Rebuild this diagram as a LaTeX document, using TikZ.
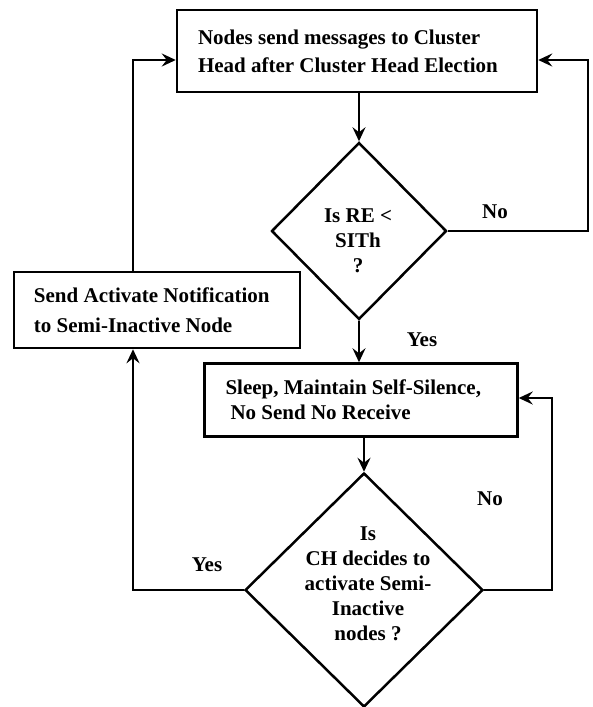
\documentclass[tikz,border=0pt]{standalone}
\usepackage{fontspec}
\setmainfont{Liberation Serif}
\usetikzlibrary{shapes.geometric,arrows.meta}
\begin{document}
\begin{tikzpicture}[x=1pt,y=-1pt,
  line width=2.5pt,
  every node/.style={font=\bfseries\fontsize{21}{25}\selectfont},
  procbox/.style={draw,rectangle,align=flush left,inner ysep=0pt,inner xsep=21pt},
  decision/.style={draw,diamond,inner sep=0pt},
  arr/.style={-{Stealth[length=14pt,width=13pt,inset=5pt]}},
  lbl/.style={inner sep=0pt}]
\useasboundingbox (0,0) rectangle (593,707);

% process boxes
\node[procbox,text width=318pt,minimum height=82pt,
      font=\bfseries\fontsize{21}{28}\selectfont] (top) at (357,51)
  {Nodes send messages to Cluster\\Head after Cluster Head Election};
\node[procbox,inner xsep=20pt,text width=246pt,minimum height=76pt,
      font=\bfseries\fontsize{21}{30}\selectfont] (lb) at (157,310)
  {Send Activate Notification\\to Semi-Inactive Node};
\node[procbox,text width=271pt,minimum height=73pt] (sleep) at (361,400)
  {Sleep, Maintain Self-Silence,\\\hspace*{5pt}No Send No Receive};

% decisions
\node[decision,minimum width=175pt,minimum height=177pt] (d1) at (359,231) {};
\node[align=center,lbl] (d1t) at (358,241) {Is RE <\\SITh\\?};
\node[decision,minimum width=238pt,minimum height=234pt] (d2) at (364,590) {};
\node[align=center,lbl] (d2t) at (368,584)
  {Is\\CH decides to\\activate Semi-\\Inactive\\nodes ?};

% turning points of the loops
\coordinate (rloop) at (588,60);
\coordinate (r2) at (552,398);
\coordinate (lx) at (133,0);
\coordinate (ltop) at (133,60);

% connectors
\draw[arr] (d1.north |- top.south) -- (d1.north);
\draw[arr] (d1.east) -| (rloop) -- (rloop -| top.east);
\draw[arr] (d1.south) -- (d1.south |- sleep.north);
\draw[arr] (sleep.south -| d2.north) -- (d2.north);
\draw[arr] (d2.east) -| (r2) -- (r2 -| sleep.east);
\draw[arr] (d2.west) -| (lx |- lb.south);
\draw[arr] (lx |- lb.north) -- (ltop) -- (ltop -| top.west);

% branch labels
\node[lbl] (no1) at (495,212) {No};
\node[lbl] (yes1) at (422,340) {Yes};
\node[lbl] (no2) at (490,499) {No};
\node[lbl] (yes2) at (207,565) {Yes};
\end{tikzpicture}
\end{document}
